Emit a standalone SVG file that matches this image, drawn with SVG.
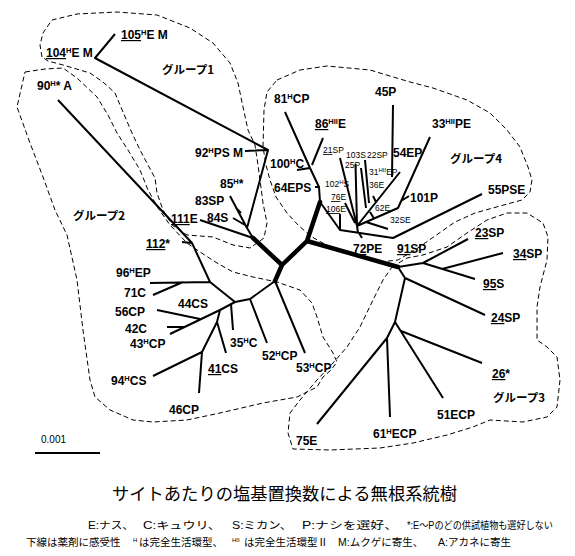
<svg xmlns="http://www.w3.org/2000/svg" width="575" height="556" viewBox="0 0 575 556">
<style>
.e{fill:none;stroke:#000;stroke-width:2;stroke-linejoin:round}
.t{fill:none;stroke:#000;stroke-width:4.5;stroke-linecap:round;stroke-linejoin:round}
.g{fill:none;stroke:#000;stroke-width:1;stroke-dasharray:5 3;stroke-linejoin:round}
.lb{font-family:"Liberation Sans",Arial,sans-serif;font-size:12px;font-weight:bold;fill:#000}
.sm{font-family:"Liberation Sans",Arial,sans-serif;font-size:8.5px;fill:#000}
.s{font-size:7.5px}
.ss{font-size:6px}
.u{text-decoration:underline}
.gl{font-family:"Noto Sans CJK JP",sans-serif;font-size:11.5px;font-weight:bold;fill:#000}
.cap{font-family:"Liberation Sans","Noto Sans CJK JP",sans-serif;font-size:10.5px;fill:#000}
.ttl{font-family:"Noto Sans CJK JP",sans-serif;font-size:17px;fill:#000}
.sc{font-family:"Liberation Sans",Arial,sans-serif;font-size:10px;fill:#000}
</style>

<g id="outlines">
<polygon class="g" points="42,57 40,45 43,33 52,20 77,14 117,12 157,15 190,28 213,43 230,63 238,83 243,107 248,130 255,145 258,165 260,180 263,203 267,223 264,238 250,248 233,245 213,237 187,235 172,225 163,210 157,193 155,178 148,165 140,150 132,133 123,112 115,93 103,82 90,73 63,65 48,61"/>
<polygon class="g" points="25,72 45,69 63,68 77,78 97,97 108,115 117,133 128,150 140,170 148,190 158,208 170,225 187,243 200,252 217,263 233,272 253,277 277,282 300,290 312,303 317,317 323,337 333,353 337,362 331,370 323,377 317,387 297,397 263,403 220,413 187,420 153,422 133,420 110,410 95,397 90,380 83,330 77,280 67,235 55,210 43,177 30,143 17,107"/>
<polygon class="g" points="392,267 407,258 423,255 447,247 467,233 487,220 507,213 527,213 543,223 548,237 547,260 540,287 537,307 537,340 547,347 557,357 560,380 557,407 547,417 523,422 490,420 473,427 447,435 413,443 380,448 330,450 293,449 288,433 290,413 300,400 317,380 333,363 347,347 360,327 373,300 383,280"/>
<polygon class="g" points="277,80 300,70 327,66 370,70 410,82 433,88 467,100 490,113 507,130 520,147 528,167 532,180 530,192 522,200 500,206 475,213 455,222 435,236 415,250 398,260 380,262 355,255 330,247 312,237 299,226 287,213 276,197 270,180 266,165 263,147 264,110 267,92"/>
</g>

<g id="connectors">
<path class="t" d="M253,238 L282,265 L307,241 L320,202 M282,265 L275,281 M307,241 L398,267"/>
<path class="e" d="M253,238 L247,228 L268,150 L95,58 L115,34 M245,151 L268,150 M230,196 L247,228 M233,218 L245,225 M236,208 L241,213 M200,220 L253,238"/>
<path class="e" d="M58,100 L192,243 L210,282 M182,242 L192,243 M150,283 L210,282 M153,295 L183,282 M210,282 L235,302 L250,299 L275,281 M235,302 L220,310 L170,334 M167,327 L184,327 M157,310 L200,319 M231,304 L233,330 M220,310 L217,322 L202,352 M217,322 L226,353 M202,352 L153,376 M202,352 L199,393 M250,299 L267,343 M275,281 L305,353"/>
<path class="e" d="M320,202 L319,187 L310,168 M315,187 L319,187 M297,170 L310,168 M285,112 L310,168 M323,138 L312,165 M320,202 L340,230 L393,238 L482,194 M340,214 L340,230 M357,226 L358,233 M359,233 L362,238 M340,158 L357,226 M355.5,164 L357,225 M361,168 L366,208 M365,160 L369,203 M345,203 L355,223 M357,226 L400,172 M393,105 L392,177 M373,196 L376,202 M357,226 L398,208 L430,137 M370,212 L374,218.5 M401,201 L409,196 M366,222 L388,229"/>
<path class="e" d="M398,267 L423,263 L468,239 M423,263 L475,279 M442,269 L503,253 M398,267 L405,278 L485,315 M405,278 L395,322 L443,398 M401,331 L482,363 M395,322 L387,338 L317,424 M387,338 L390,417"/>
</g>

<g id="n105"><text class="lb" x="121" y="39"><tspan class="u">105</tspan><tspan class="s" dy="-4.5">H</tspan><tspan dy="4.5">E M</tspan></text></g>
<g id="n104"><text class="lb" x="46" y="57"><tspan class="u">104</tspan><tspan class="s" dy="-4.5">H</tspan><tspan dy="4.5">E M</tspan></text></g>
<g id="n90"><text class="lb" x="37" y="90">90<tspan class="s" dy="-4.5">H</tspan><tspan dy="4.5">* A</tspan></text></g>
<g id="n92"><text class="lb" x="195" y="157">92<tspan class="s" dy="-4.5">H</tspan><tspan dy="4.5">PS M</tspan></text></g>
<g id="n85"><text class="lb" x="220" y="188">85<tspan class="s" dy="-4.5">H</tspan><tspan dy="4.5">*</tspan></text></g>
<g id="n83"><text class="lb" x="195" y="205">83SP</text></g>
<g id="n84"><text class="lb" x="207" y="222">84S</text></g>
<g id="n111"><text class="lb" x="171" y="223"><tspan class="u">111</tspan>E</text></g>
<g id="n112"><text class="lb" x="146" y="248"><tspan class="u">112</tspan>*</text></g>
<g id="n96"><text class="lb" x="116" y="277">96<tspan class="s" dy="-4.5">H</tspan><tspan dy="4.5">EP</tspan></text></g>
<g id="n71"><text class="lb" x="124" y="297">71C</text></g>
<g id="n44"><text class="lb" x="178" y="308">44CS</text></g>
<g id="n56"><text class="lb" x="115" y="316">56CP</text></g>
<g id="n42"><text class="lb" x="125" y="333">42C</text></g>
<g id="n43"><text class="lb" x="130" y="348">43<tspan class="s" dy="-4.5">H</tspan><tspan dy="4.5">CP</tspan></text></g>
<g id="n35"><text class="lb" x="230" y="347">35<tspan class="s" dy="-4.5">H</tspan><tspan dy="4.5">C</tspan></text></g>
<g id="n52"><text class="lb" x="262" y="360">52<tspan class="s" dy="-4.5">H</tspan><tspan dy="4.5">CP</tspan></text></g>
<g id="n41"><text class="lb" x="208" y="373"><tspan class="u">41</tspan>CS</text></g>
<g id="n94"><text class="lb" x="111" y="385">94<tspan class="s" dy="-4.5">H</tspan><tspan dy="4.5">CS</tspan></text></g>
<g id="n46"><text class="lb" x="169" y="414">46CP</text></g>
<g id="n53"><text class="lb" x="296" y="372">53<tspan class="s" dy="-4.5">H</tspan><tspan dy="4.5">CP</tspan></text></g>
<g id="n81"><text class="lb" x="274" y="103">81<tspan class="s" dy="-4.5">H</tspan><tspan dy="4.5">CP</tspan></text></g>
<g id="n45"><text class="lb" x="375" y="96">45P</text></g>
<g id="n33"><text class="lb" x="432" y="128">33<tspan class="s" dy="-4.5">HII</tspan><tspan dy="4.5">PE</tspan></text></g>
<g id="n86"><text class="lb" x="315" y="128"><tspan class="u">86</tspan><tspan class="s" dy="-4.5">HII</tspan><tspan dy="4.5">E</tspan></text></g>
<g id="n54"><text class="lb" x="393" y="157">54EP</text></g>
<g id="n100"><text class="lb" x="270" y="168">100<tspan class="s" dy="-4.5">H</tspan><tspan dy="4.5">C</tspan></text></g>
<g id="n64"><text class="lb" x="274" y="192">64EPS</text></g>
<g id="n101"><text class="lb" x="410" y="202">101P</text></g>
<g id="n55"><text class="lb" x="488" y="194">55PSE</text></g>
<g id="n72"><text class="lb" x="353" y="253"><tspan class="u">72</tspan>PE</text></g>
<g id="n91"><text class="lb" x="397" y="253"><tspan class="u">91</tspan>SP</text></g>
<g id="n23"><text class="lb" x="475" y="237"><tspan class="u">23</tspan>SP</text></g>
<g id="n34"><text class="lb" x="513" y="258"><tspan class="u">34</tspan>SP</text></g>
<g id="n95"><text class="lb" x="483" y="288"><tspan class="u">95</tspan>S</text></g>
<g id="n24"><text class="lb" x="491" y="322"><tspan class="u">24</tspan>SP</text></g>
<g id="n26"><text class="lb" x="492" y="378"><tspan class="u">26</tspan>*</text></g>
<g id="n51"><text class="lb" x="437" y="419">51ECP</text></g>
<g id="n61"><text class="lb" x="373" y="438">61<tspan class="s" dy="-4.5">H</tspan><tspan dy="4.5">ECP</tspan></text></g>
<g id="n75"><text class="lb" x="296" y="445">75E</text></g>

<g id="n21"><text class="sm" x="323" y="153"><tspan class="u">21</tspan>SP</text></g>
<g id="n103"><text class="sm" x="346" y="158">103S</text></g>
<g id="n22"><text class="sm" x="367" y="158">22SP</text></g>
<g id="n25"><text class="sm" x="345" y="168">25P</text></g>
<g id="n31"><text class="sm" x="369" y="175">31<tspan class="ss" dy="-3.5">HII</tspan><tspan dy="3.5">EP</tspan></text></g>
<g id="n36"><text class="sm" x="369" y="188">36E</text></g>
<g id="n102"><text class="sm" x="325" y="187">102<tspan class="ss" dy="-3.5">H</tspan><tspan dy="3.5">S</tspan></text></g>
<g id="n76"><text class="sm" x="331" y="200"><tspan class="u">76</tspan>E</text></g>
<g id="n106"><text class="sm" x="326" y="212"><tspan class="u">106</tspan>E</text></g>
<g id="n62"><text class="sm" x="375" y="211">62E</text></g>
<g id="n32"><text class="sm" x="390" y="223">32SE</text></g>

<g id="grp1"><text class="gl" x="162" y="74">グループ1</text></g>
<g id="grp2"><text class="gl" x="73" y="220">グループ2</text></g>
<g id="grp4"><text class="gl" x="450" y="163">グループ4</text></g>
<g id="grp3"><text class="gl" x="493" y="402">グループ3</text></g>

<g id="scale">
<line x1="35" y1="453" x2="100" y2="453" stroke="#000" stroke-width="2"/>
<text class="sc" x="41" y="443">0.001</text>
</g>

<g id="caption">
<text class="ttl" x="112" y="500" textLength="345" lengthAdjust="spacingAndGlyphs">サイトあたりの塩基置換数による無根系統樹</text>
<text class="cap" x="88" y="529" textLength="46" lengthAdjust="spacingAndGlyphs">E:ナス、</text>
<text class="cap" x="143" y="529" textLength="78" lengthAdjust="spacingAndGlyphs">C:キュウリ、</text>
<text class="cap" x="232" y="529" textLength="60" lengthAdjust="spacingAndGlyphs">S:ミカン、</text>
<text class="cap" x="302" y="529" textLength="96" lengthAdjust="spacingAndGlyphs">P:ナシを選好、</text>
<text class="cap" x="407" y="529" textLength="146" lengthAdjust="spacingAndGlyphs">*:E～Pのどの供試植物も選好しない</text>
<text class="cap" y="546"><tspan x="26">下線は薬剤に感受性</tspan><tspan x="133" class="ss" dy="-4">H</tspan><tspan x="139" dy="4">は完全生活環型、</tspan><tspan x="232" class="ss" dy="-4">HII</tspan><tspan x="244" dy="4">は完全生活環型Ⅱ</tspan><tspan x="338">M:ムクゲに寄生、</tspan><tspan x="438">A:アカネに寄生</tspan></text>
</g>
</svg>
